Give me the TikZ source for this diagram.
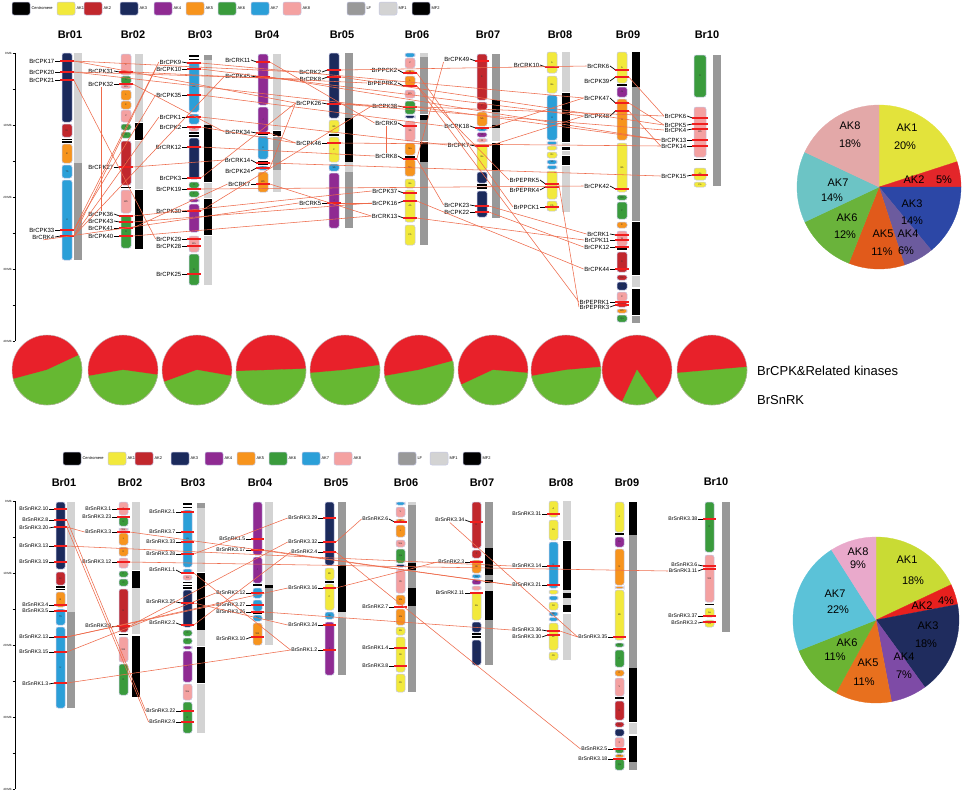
\documentclass[tikz,border=0pt]{standalone}
\usepackage{fontspec}
\setmainfont{Liberation Sans}
\definecolor{ak1}{HTML}{F2E93C}
\definecolor{ak2}{HTML}{C1272D}
\definecolor{ak3}{HTML}{1B2A5C}
\definecolor{ak4}{HTML}{8F2A92}
\definecolor{ak5}{HTML}{F7941D}
\definecolor{ak6}{HTML}{3A9B3C}
\definecolor{ak7}{HTML}{2B9FD8}
\definecolor{ak8}{HTML}{F4A1A1}
\definecolor{lf}{HTML}{999999}
\definecolor{mfa}{HTML}{D3D3D3}
\definecolor{segline}{HTML}{C3C6E4}
\definecolor{lnk}{HTML}{EE6A4A}
\definecolor{barred}{HTML}{F01E1E}
\definecolor{p1}{HTML}{E3E33B}
\definecolor{p2}{HTML}{E3262A}
\definecolor{p3}{HTML}{2C47A6}
\definecolor{p4}{HTML}{6C5B9E}
\definecolor{p5}{HTML}{E15A1B}
\definecolor{p6}{HTML}{6AB33B}
\definecolor{p7}{HTML}{6CC4C5}
\definecolor{p8}{HTML}{E3A8A8}
\definecolor{q1}{HTML}{C9DB34}
\definecolor{q2}{HTML}{E8201E}
\definecolor{q3}{HTML}{1F2C5E}
\definecolor{q4}{HTML}{7E4BA6}
\definecolor{q5}{HTML}{E8701E}
\definecolor{q6}{HTML}{6BB433}
\definecolor{q7}{HTML}{5BC2D8}
\definecolor{q8}{HTML}{E9A9CB}
\definecolor{pr}{HTML}{E8212A}
\definecolor{pg}{HTML}{66B832}
\newcounter{nc}
\def\cw{10}
\def\gfs{6}
\tikzset{
 seg/.style={draw=segline, line width=0.5pt, rounded corners=2.2pt},
 slab/.style={font=\fontsize{2.4}{3}\selectfont, inner sep=0pt, text=black!80},
 gbar/.style={draw=barred, line width=2.2pt},
 gtick/.style={draw=black, line width=0.7pt},
 glab/.style={anchor=east, inner sep=0.5pt, font=\fontsize{\gfs}{\gfs}\selectfont},
 link/.style={draw=lnk, line width=0.55pt},
 ttl/.style={font=\fontsize{11}{13}\selectfont\bfseries},
 lgl/.style={font=\fontsize{4}{5}\selectfont, anchor=west, inner sep=0.3pt},
 axl/.style={font=\fontsize{3}{4}\selectfont, anchor=east, inner sep=0.3pt},
 pl/.style={font=\fontsize{11}{12}\selectfont, inner sep=0pt},
 leg/.style={font=\fontsize{13}{15}\selectfont, anchor=west, inner sep=0pt},
}
\newcommand{\sg}[5]{\draw[seg,fill=#4] (#1,#2) rectangle ({#1+\cw},#3);
  \stepcounter{nc}\node[slab] (n\arabic{nc}) at ({#1+\cw/2},{(#2+#3)/2}) {#5};}
\newcommand{\bk}[2]{\fill[black] ({#1-0.3},{#2-0.7}) rectangle ({#1+\cw+0.3},{#2+0.7});}
\newcommand{\bd}[4]{\fill[#4] (#1,#2) rectangle ({#1+8},#3);}
\newcommand{\gn}[5]{\draw[gtick] ({#2-7},#4) -- ({#2-1.5},#3);
  \draw[gbar] ({#2-1.8},#3) -- ({#2+\cw+1.8},#3);
  \node[glab] (#1) at ({#2-7},#4) {#5};
  \coordinate (#1-r) at ({#2+\cw+1.8},#3);}
\newcommand{\lk}[2]{\draw[link] (#1) -- (#2);}
\newcommand{\lgbox}[4]{\draw[draw=segline, line width=0.5pt, rounded corners=2pt, fill=#3] (#1,#2) rectangle ({#1+18},{#2+13});
  \stepcounter{nc}\node[lgl] (n\arabic{nc}) at ({#1+19},{#2+6.5}) {#4};}
\newcommand{\ps}[6]{\filldraw[fill=#6, draw=#6, line width=0.3pt] (#1,#2) -- ++({-(#4)}:#3) arc[start angle={-(#4)}, end angle={-(#5)}, radius=#3] -- cycle;}
\newcommand{\mini}[4]{\fill[pr] (#1,370) circle[radius=35];
  \ps{#1}{370}{35}{#2}{#3}{pg}
  \draw[black!25, line width=0.4pt] (#1,370) circle[radius=35];
  \coordinate (#4) at (#1,370);}
\newcommand{\axisk}[1]{\draw[line width=0.6pt] (15,#1) -- (15,{#1+288});
  \foreach \i in {0,...,8}{\draw[line width=0.5pt] (12.5,{#1+36*\i}) -- (15,{#1+36*\i});}
  \foreach \i/\t in {0/0,2/10,4/20,6/30,8/40}{\stepcounter{nc}\node[axl] (n\arabic{nc}) at (12,{#1+36*\i}) {\t\,Mb};}}
\begin{document}
\begin{tikzpicture}[x=1pt,y=-1pt]
\fill[white] (0,0) rectangle (964,793);
\useasboundingbox (0,0) rectangle (964,793);

% ================= TOP PANEL =================
\lgbox{12}{2}{black}{Centromere}
\lgbox{57}{2}{ak1}{AK1}
\lgbox{84}{2}{ak2}{AK2}
\lgbox{120}{2}{ak3}{AK3}
\lgbox{154}{2}{ak4}{AK4}
\lgbox{186}{2}{ak5}{AK5}
\lgbox{218}{2}{ak6}{AK6}
\lgbox{251}{2}{ak7}{AK7}
\lgbox{283}{2}{ak8}{AK8}
\lgbox{347}{2}{lf}{LF}
\lgbox{379}{2}{mfa}{MF1}
\lgbox{412}{2}{black}{MF2}

\axisk{53}

\node[ttl] (T1) at (70,35) {Br01};
\node[ttl] (T2) at (133,35) {Br02};
\node[ttl] (T3) at (200,35) {Br03};
\node[ttl] (T4) at (267,35) {Br04};
\node[ttl] (T5) at (342,35) {Br05};
\node[ttl] (T6) at (417,35) {Br06};
\node[ttl] (T7) at (488,35) {Br07};
\node[ttl] (T8) at (560,35) {Br08};
\node[ttl] (T9) at (628,35) {Br09};
\node[ttl] (T10) at (707,35) {Br10};

% Br01
\bd{74}{53}{163}{mfa}\bd{74}{163}{260}{lf}
\sg{62}{53}{122}{ak3}{I}
\sg{62}{124}{137}{ak2}{Dr}
\bk{62}{139.5}\bk{62}{142}
\sg{62}{144}{163}{ak5}{B}
\sg{62}{165}{178}{ak7}{Tb}
\sg{62}{180}{260}{ak7}{U}
% Br02
\bd{135}{54}{122}{mfa}\bd{135}{123}{140}{black}\bd{135}{141}{189}{mfa}\bd{135}{190}{249}{black}
\sg{121}{54}{75}{ak8}{X}
\sg{121}{76}{84}{ak6}{U}
\sg{121}{85}{88.5}{ak8}{Wa}
\sg{121}{90}{100}{ak5}{L}
\sg{121}{101}{109}{ak5}{K}
\sg{121}{110}{122}{ak8}{V}
\sg{121}{124}{130}{ak6}{P}
\sg{121}{132}{138}{ak6}{O}
\sg{121}{141}{185}{ak2}{E}
\bk{121}{187.5}
\sg{121}{190}{213}{ak8}{Wb}
\sg{121}{215}{248}{ak6}{R}
% Br03
\bd{204}{55}{60}{lf}\bd{204}{60}{125}{mfa}\bd{204}{125}{182}{black}\bd{204}{183}{198}{mfa}\bd{204}{199}{235}{black}\bd{204}{236}{285}{mfa}
\bk{189}{56}\bk{189}{59.5}
\sg{189}{62}{112}{ak7}{Ua}
\sg{189}{114}{124}{ak7}{}
\sg{189}{126}{131}{ak8}{Ka}
\bk{189}{133}\bk{189}{136}
\sg{189}{138}{179}{ak3}{I}
\sg{189}{182}{188}{ak6}{O}
\sg{189}{191}{197}{ak6}{P}
\sg{189}{199}{202}{ak4}{}
\sg{189}{204}{232}{ak4}{J}
\sg{189}{236}{252}{ak8}{Wa}
\sg{189}{254}{285}{ak6}{R}
% Br04
\bd{273}{54}{130}{mfa}\bd{273}{131}{136}{black}\bd{273}{137}{170}{lf}\bd{273}{170}{192}{mfa}
\sg{258}{54}{105}{ak4}{}
\sg{258}{107}{132}{ak4}{J}
\bk{258}{134}
\sg{258}{136}{159}{ak7}{U}
\bk{258}{161.5}\bk{258}{164.5}
\sg{258}{166}{170}{ak7}{Ta}
\sg{258}{172}{192}{ak5}{Wb}
% Br05
\bd{345}{53}{118}{lf}\bd{345}{118}{162}{black}\bd{345}{162}{172}{mfa}\bd{345}{172}{228}{lf}
\sg{329}{53}{118}{ak3}{Fa}
\sg{329}{120}{133}{ak1}{Bb}
\bk{329}{135}
\sg{329}{137}{162}{ak1}{C}
\sg{329}{164}{171}{ak7}{Sb}
\sg{329}{173}{228}{ak4}{J}
% Br06
\bd{420}{53}{57}{mfa}\bd{420}{57}{114}{lf}\bd{420}{115}{120}{black}\bd{420}{120}{141}{lf}\bd{420}{142}{162}{black}\bd{420}{162}{245}{lf}
\sg{405}{53}{57}{ak7}{}
\sg{405}{58}{68}{ak8}{V}
\sg{405}{70}{74}{ak5}{W}
\sg{405}{76}{86}{ak5}{L}
\sg{405}{90}{98}{ak8}{Wa}
\sg{405}{101}{114}{ak6}{Qa}
\sg{405}{115.5}{118}{ak3}{}
\sg{405}{121}{141}{ak8}{Xb}
\sg{405}{143}{155}{ak5}{Ma}
\bk{405}{157}
\sg{405}{159}{176}{ak5}{Ma}
\sg{405}{179}{188}{ak1}{Ba}
\sg{405}{190}{222}{ak1}{Ab}
\sg{405}{225}{245}{ak1}{Cb}
% Br07
\bd{492}{54}{100}{lf}\bd{492}{100}{112}{black}\bd{492}{112}{125}{lf}\bd{492}{125}{128}{black}\bd{492}{128}{141}{mfa}\bd{492}{143}{170}{black}\bd{492}{170}{218}{lf}
\sg{477}{54}{100}{ak2}{E}
\sg{477}{102}{110}{ak2}{F}
\sg{477}{112}{126}{ak5}{Nb}
\sg{477}{127.5}{131}{ak7}{Sa}
\sg{477}{132.5}{137}{ak4}{Vb}
\sg{477}{138.5}{142}{ak8}{Ni}
\sg{477}{144}{170}{ak1}{Ba}
\sg{477}{172}{183}{ak3}{Fb}
\bk{477}{185}\bk{477}{188}
\sg{477}{191}{217}{ak3}{H}
% Br08
\bd{562}{52}{92}{mfa}\bd{562}{93}{142}{black}\bd{562}{143}{146}{mfa}\bd{562}{147}{150}{black}\bd{562}{151}{155}{mfa}\bd{562}{156}{165}{black}\bd{562}{166}{212}{mfa}
\sg{547}{52}{73}{ak1}{A}
\sg{547}{76}{93}{ak1}{Ba}
\sg{547}{95}{140}{ak7}{U}
\sg{547}{141.5}{144.5}{ak7}{}
\sg{547}{146}{150}{ak1}{}
\sg{547}{152}{158}{ak1}{Rc}
\sg{547}{160}{164}{ak7}{Sb}
\sg{547}{165.5}{169}{ak7}{}
\sg{547}{171}{199}{ak1}{Bc}
\sg{547}{201}{211}{ak1}{Cb}
% Br09
\bd{632}{52}{87}{black}\bd{632}{87}{221}{lf}\bd{632}{222}{275}{black}\bd{632}{276}{287}{mfa}\bd{632}{289}{315}{black}\bd{632}{316}{323}{lf}
\sg{617}{52}{83}{ak1}{A}
\bk{617}{85}
\sg{617}{87}{97}{ak4}{Ja}
\sg{617}{99}{140}{ak5}{N}
\sg{617}{143}{192}{ak1}{Bb}
\sg{617}{195}{200}{ak6}{Ob}
\sg{617}{202}{219}{ak6}{P}
\sg{617}{222}{228}{ak5}{K}
\sg{617}{231}{246}{ak8}{W}
\bk{617}{249}
\sg{617}{252}{272}{ak2}{D}
\sg{617}{275}{280}{ak2}{Da}
\sg{617}{282}{290}{ak3}{Cf}
\sg{617}{292}{301}{ak8}{X}
\sg{617}{302}{307}{ak2}{}
\sg{617}{309}{313}{ak5}{Wb}
\sg{617}{315}{322}{ak6}{Qa}
% Br10
\def\cw{12}
\bd{713}{55}{186}{lf}
\sg{694}{55}{97}{ak6}{R}
\sg{694}{107}{157}{ak8}{Wb}
\bk{694}{159.5}
\sg{694}{168}{180}{ak1}{Aa}
\sg{694}{182}{187}{ak1}{Ca}
\def\cw{10}

% genes top
\gn{CPK17}{62}{61}{61}{BrCPK17}
\gn{CPK20}{62}{72}{72}{BrCPK20}
\gn{CPK21}{62}{80}{80}{BrCPK21}
\gn{CPK33}{62}{230}{230}{BrCPK33}
\gn{CRK4}{62}{236}{237}{BrCRK4}
\gn{CPK31}{121}{72}{71}{BrCPK31}
\gn{CPK32}{121}{84}{84}{BrCPK32}
\gn{CPK27}{121}{167}{167}{BrCPK27}
\gn{CPK36}{121}{216}{214}{BrCPK36}
\gn{CPK43}{121}{222}{221}{BrCPK43}
\gn{CPK41}{121}{228}{228}{BrCPK41}
\gn{CPK40}{121}{236}{236}{BrCPK40}
\gn{CPK9}{189}{63}{62}{BrCPK9}
\gn{CPK10}{189}{69}{69}{BrCPK10}
\gn{CPK35}{189}{95}{95}{BrCPK35}
\gn{CPK1}{189}{117}{117}{BrCPK1}
\gn{CPK2}{189}{127}{127}{BrCPK2}
\gn{CRK12}{189}{147}{147}{BrCRK12}
\gn{CPK3}{189}{178}{178}{BrCPK3}
\gn{CPK19}{189}{189}{189}{BrCPK19}
\gn{CPK30}{189}{211}{211}{BrCPK30}
\gn{CPK29}{189}{239}{239}{BrCPK29}
\gn{CPK28}{189}{246}{246}{BrCPK28}
\gn{CPK25}{189}{274}{274}{BrCPK25}
\gn{CRK11}{258}{62}{60}{BrCRK11}
\gn{CPK45}{258}{77}{76}{BrCPK45}
\gn{CPK34}{258}{133}{132}{BrCPK34}
\gn{CRK14}{258}{163}{160}{BrCRK14}
\gn{CPK24}{258}{168}{171}{BrCPK24}
\gn{CRK7}{258}{184}{184}{BrCRK7}
\gn{CRK2}{329}{70}{72}{BrCRK2}
\gn{CPK8}{329}{77}{79}{BrCPK8}
\gn{CPK26}{329}{104}{103}{BrCPK26}
\gn{CPK46}{329}{143}{143}{BrCPK46}
\gn{CRK5}{329}{203}{203}{BrCRK5}
\gn{PPCK2}{405}{73}{70}{BrPPCK2}
\gn{PEPRK2}{405}{86}{83}{BrPEPRK2}
\gn{CPK38}{405}{107}{106}{BrCPK38}
\gn{CRK9}{405}{126}{123}{BrCRK9}
\gn{CRK8}{405}{159}{156}{BrCRK8}
\gn{CPK37}{405}{193}{191}{BrCPK37}
\gn{CPK16}{405}{201}{203}{BrCPK16}
\gn{CRK13}{405}{218}{216}{BrCRK13}
\gn{CPK49}{477}{61}{59}{BrCPK49}
\gn{CPK18}{477}{128}{126}{BrCPK18}
\gn{CPK7}{477}{146}{145}{BrCPK7}
\gn{CPK23}{477}{206}{205}{BrCPK23}
\gn{CPK22}{477}{212}{212}{BrCPK22}
\gn{CRK10}{547}{67}{65}{BrCRK10}
\gn{PEPRK5}{547}{184}{180}{BrPEPRK5}
\gn{PEPRK4}{547}{187}{190}{BrPEPRK4}
\gn{PPCK1}{547}{207}{207}{BrPPCK1}
\gn{CRK6}{617}{70}{66}{BrCRK6}
\gn{CPK39}{617}{77}{81}{BrCPK39}
\gn{CPK47}{617}{103}{98}{BrCPK47}
\gn{CPK48}{617}{111}{116}{BrCPK48}
\gn{CPK42}{617}{189}{186}{BrCPK42}
\gn{CRK1}{617}{235}{234}{BrCRK1}
\gn{CPK11}{617}{240}{240}{BrCPK11}
\gn{CPK12}{617}{247}{247}{BrCPK12}
\gn{CPK44}{617}{269}{269}{BrCPK44}
\gn{PEPRK1}{617}{302}{302}{BrPEPRK1}
\gn{PEPRK3}{617}{305}{307}{BrPEPRK3}
\def\cw{12}
\gn{CPK6}{694}{118}{116}{BrCPK6}
\gn{CPK5}{694}{124}{125}{BrCPK5}
\gn{CPK4}{694}{129}{130}{BrCPK4}
\gn{CPK13}{694}{140}{140}{BrCPK13}
\gn{CPK14}{694}{146}{146}{BrCPK14}
\gn{CPK15}{694}{175}{176}{BrCPK15}
\def\cw{10}

% links top
\lk{CPK17-r}{CRK2.west}
\lk{CPK17-r}{CPK26.west}
\lk{CPK20-r}{CPK8.west}
\lk{CPK20-r}{CPK38.west}
\lk{CPK21-r}{CPK29.west}
\lk{CPK31-r}{PEPRK2.west}
\lk{CPK32.south}{CPK36.north}
\lk{CPK32-r}{CPK34.west}
\lk{CPK33-r}{CPK9.west}
\lk{CRK4-r}{CPK10.west}
\lk{CRK4-r}{CPK45.west}
\lk{CPK33-r}{CPK35.west}
\lk{CRK4-r}{CPK1.west}
\lk{CRK4.south}{CRK5.west}
\lk{CPK36-r}{CPK37.west}
\lk{CPK43-r}{CPK16.west}
\lk{CPK41-r}{CRK7.west}
\lk{CPK40-r}{CRK13.west}
\lk{CPK27-r}{CRK14.west}
\lk{CPK9-r}{CPK47.west}
\lk{CPK10-r}{CPK48.west}
\lk{CPK35-r}{CPK18.west}
\lk{CPK1-r}{CPK7.west}
\lk{CPK2-r}{CPK46.west}
\lk{CRK12-r}{CRK8.west}
\lk{CPK3-r}{CPK26.west}
\lk{CPK19-r}{CPK42.west}
\lk{CPK30-r}{CPK38.west}
\lk{CRK11-r}{CRK9.west}
\lk{CPK45-r}{CPK13.west}
\lk{CPK34-r}{CPK46.west}
\lk{CPK24-r}{CPK26.west}
\lk{CRK7-r}{CRK13.west}
\lk{CRK14-r}{CPK15.west}
\lk{CRK2-r}{CRK6.west}
\lk{CPK8-r}{CPK5.west}
\lk{CPK26-r}{CPK6.west}
\lk{CPK26-r}{CPK4.west}
\lk{CPK46-r}{CPK14.west}
\lk{CRK5-r}{CPK16.west}
\lk{PPCK2-r}{PPCK1.west}
\lk{PEPRK2-r}{PEPRK1.west}
\lk{PEPRK2-r}{PEPRK5.west}
\lk{CPK38-r}{CPK13.west}
\lk{CRK9.south}{CRK8.north}
\lk{CPK16-r}{CPK44.west}
\lk{CRK13-r}{CPK11.west}
\lk{CRK8-r}{CPK23.west}
\lk{CPK49.south west}{CRK8-r}
\lk{CPK18-r}{CPK47.west}
\lk{CPK7-r}{CPK48.west}
\lk{CPK22-r}{CPK12.west}
\lk{CPK23-r}{CRK1.west}
\lk{PEPRK5-r}{PEPRK3.west}
\lk{CPK39-r}{CPK6.west}
\lk{CPK47-r}{CPK5.west}
\lk{CPK48-r}{CPK14.west}

% top pie
\ps{879}{187}{82}{90}{18}{p1}
\ps{879}{187}{82}{18}{0}{p2}
\ps{879}{187}{82}{0}{-50.4}{p3}
\ps{879}{187}{82}{-50.4}{-72}{p4}
\ps{879}{187}{82}{-72}{-111.6}{p5}
\ps{879}{187}{82}{-111.6}{-154.8}{p6}
\ps{879}{187}{82}{-154.8}{-205.2}{p7}
\ps{879}{187}{82}{-205.2}{-270}{p8}
\node[pl] (a8) at (850,126) {AK8};\node[pl] (b8) at (850,144) {18\%};
\node[pl] (a1) at (907,128) {AK1};\node[pl] (b1) at (905,146) {20\%};
\node[pl] (a2) at (914,180) {AK2};\node[pl] (b2) at (944,180) {5\%};
\node[pl] (a3) at (912,204) {AK3};\node[pl] (b3) at (912,221) {14\%};
\node[pl] (a4) at (908,234) {AK4};\node[pl] (b4) at (906,251) {6\%};
\node[pl] (a5) at (883,234) {AK5};\node[pl] (b5) at (882,252) {11\%};
\node[pl] (a6) at (847,218) {AK6};\node[pl] (b6) at (845,235) {12\%};
\node[pl] (a7) at (838,183) {AK7};\node[pl] (b7) at (832,198) {14\%};

% ================= PIE ROW =================
\mini{47}{25}{-165}{m1}
\mini{123}{-8}{-170}{m2}
\mini{197}{-10}{-160}{m3}
\mini{271}{2}{-178}{m4}
\mini{345}{8}{-175}{m5}
\mini{419}{15}{-170}{m6}
\mini{493}{-5}{-155}{m7}
\mini{566}{5}{-170}{m8}
\mini{637}{-55}{-115}{m9}
\mini{712}{5}{-175}{m10}
\node[leg] (L1) at (757,371) {BrCPK\&Related kinases};
\node[leg] (L2) at (757,400) {BrSnRK};

% ================= BOTTOM PANEL =================
\def\cw{9}
\def\gfs{5.2}
\lgbox{63}{452}{black}{Centromere}
\lgbox{108}{452}{ak1}{AK1}
\lgbox{135}{452}{ak2}{AK2}
\lgbox{171}{452}{ak3}{AK3}
\lgbox{205}{452}{ak4}{AK4}
\lgbox{237}{452}{ak5}{AK5}
\lgbox{269}{452}{ak6}{AK6}
\lgbox{302}{452}{ak7}{AK7}
\lgbox{334}{452}{ak8}{AK8}
\lgbox{398}{452}{lf}{LF}
\lgbox{430}{452}{mfa}{MF1}
\lgbox{463}{452}{black}{MF2}

\axisk{501}

\node[ttl] (U1) at (64,483) {Br01};
\node[ttl] (U2) at (130,483) {Br02};
\node[ttl] (U3) at (193,483) {Br03};
\node[ttl] (U4) at (260,483) {Br04};
\node[ttl] (U5) at (336,483) {Br05};
\node[ttl] (U6) at (406,483) {Br06};
\node[ttl] (U7) at (482,483) {Br07};
\node[ttl] (U8) at (561,483) {Br08};
\node[ttl] (U9) at (627,483) {Br09};
\node[ttl] (U10) at (716,482) {Br10};

% Br01
\bd{67}{502}{612}{mfa}\bd{67}{612}{708}{lf}
\sg{56}{502}{569}{ak3}{}
\sg{56}{572}{585}{ak2}{Dr}
\bk{56}{587}\bk{56}{589.5}
\sg{56}{592}{607}{ak5}{B}
\sg{56}{609}{625}{ak7}{Tb}
\sg{56}{627}{708}{ak7}{U}
% Br02
\bd{132}{502}{570}{mfa}\bd{132}{571}{588}{black}\bd{132}{588}{634}{mfa}\bd{132}{636}{697}{black}
\sg{119}{502}{515}{ak8}{X}
\sg{119}{517}{526}{ak6}{U}
\sg{119}{528}{531}{ak8}{Wa}
\sg{119}{533}{545}{ak5}{L}
\sg{119}{547}{556}{ak5}{K}
\sg{119}{558}{568}{ak8}{V}
\sg{119}{571}{577}{ak6}{P}
\sg{119}{579}{586}{ak6}{O}
\sg{119}{589}{632}{ak2}{E}
\bk{119}{634.5}
\sg{119}{637}{662}{ak8}{Wb}
\sg{119}{664}{695}{ak6}{R}
% Br03
\bd{197}{503}{508}{lf}\bd{197}{508}{572}{mfa}\bd{197}{573}{630}{black}\bd{197}{630}{646}{mfa}\bd{197}{647}{683}{black}\bd{197}{684}{733}{mfa}
\bk{183}{504}\bk{183}{507.5}
\sg{183}{510}{567}{ak7}{Ua}
\sg{183}{569}{573}{ak7}{}
\sg{183}{575}{580}{ak8}{Ka}
\bk{183}{582.5}\bk{183}{585.5}\bk{183}{588}
\sg{183}{590}{627}{ak3}{I}
\sg{183}{630}{636}{ak6}{O}
\sg{183}{638}{644}{ak6}{P}
\sg{183}{646}{649}{ak4}{}
\sg{183}{651}{682}{ak4}{J}
\sg{183}{684}{700}{ak8}{Wa}
\sg{183}{702}{733}{ak6}{R}
% Br04
\bd{265}{502}{585}{mfa}\bd{265}{585}{588}{black}\bd{265}{588}{620}{lf}\bd{265}{620}{645}{mfa}
\sg{253}{502}{555}{ak4}{}
\sg{253}{557}{583}{ak4}{J}
\bk{253}{585}
\sg{253}{588}{598}{ak7}{}
\sg{253}{600}{611}{ak7}{U}
\bk{253}{613}
\sg{253}{615}{621}{ak7}{Ta}
\sg{253}{623}{645}{ak5}{Wb}
% Br05
\bd{338}{502}{565}{lf}\bd{338}{565}{612}{black}\bd{338}{612}{618}{mfa}\bd{338}{618}{675}{lf}
\sg{325}{502}{565}{ak3}{Fa}
\sg{325}{568}{580}{ak1}{Bb}
\bk{325}{582}
\sg{325}{584}{610}{ak1}{C}
\sg{325}{612}{619}{ak7}{Sb}
\sg{325}{622}{675}{ak4}{J}
% Br06
\bd{408}{502}{505}{mfa}\bd{408}{505}{563}{lf}\bd{408}{563}{570}{black}\bd{408}{570}{588}{lf}\bd{408}{588}{606}{black}\bd{408}{606}{692}{lf}
\sg{396}{502}{505}{ak7}{}
\sg{396}{507}{517}{ak8}{V}
\sg{396}{519}{522.5}{ak5}{W}
\sg{396}{525}{537}{ak5}{L}
\sg{396}{540}{547}{ak8}{Wa}
\sg{396}{549}{563}{ak6}{Qa}
\sg{396}{564.5}{567}{ak3}{}
\sg{396}{570}{593}{ak8}{Xb}
\sg{396}{595}{605}{ak5}{Ma}
\bk{396}{607}
\sg{396}{609}{625}{ak5}{Ma}
\sg{396}{627}{635}{ak1}{Ba}
\sg{396}{637}{672}{ak1}{Ab}
\sg{396}{674}{692}{ak1}{Cb}
% Br07
\bd{485}{502}{548}{lf}\bd{485}{548}{575}{black}\bd{485}{575}{580}{lf}\bd{485}{580}{583}{black}\bd{485}{583}{591}{mfa}\bd{485}{591}{620}{black}\bd{485}{620}{665}{lf}
\sg{472}{502}{548}{ak2}{E}
\sg{472}{550}{558}{ak2}{F}
\sg{472}{560}{573}{ak5}{Nb}
\sg{472}{574.5}{578}{ak7}{Sa}
\sg{472}{579.5}{584.5}{ak4}{Vb}
\sg{472}{586}{590}{ak8}{}
\sg{472}{592}{620}{ak1}{Ba}
\sg{472}{622}{632}{ak3}{Fb}
\bk{472}{634}\bk{472}{637}
\sg{472}{640}{665}{ak3}{H}
% Br08
\bd{563}{501}{540}{mfa}\bd{563}{541}{590}{black}\bd{563}{590}{593}{mfa}\bd{563}{593}{598}{black}\bd{563}{598}{605}{mfa}\bd{563}{605}{612}{black}\bd{563}{614}{660}{mfa}
\sg{549}{501}{517}{ak1}{A}
\sg{549}{520}{540}{ak1}{Ba}
\sg{549}{542}{588}{ak7}{U}
\sg{549}{590}{594}{ak1}{}
\sg{549}{596}{600}{ak7}{}
\sg{549}{602}{610}{ak1}{Rc}
\sg{549}{612}{616}{ak7}{Sb}
\sg{549}{617.5}{621}{ak7}{}
\sg{549}{623}{650}{ak1}{Bc}
\sg{549}{652}{660}{ak1}{Cb}
% Br09
\bd{629}{502}{535}{black}\bd{629}{535}{668}{lf}\bd{629}{668}{722}{black}\bd{629}{723}{734}{mfa}\bd{629}{736}{762}{black}\bd{629}{762}{770}{lf}
\sg{615}{502}{532}{ak1}{A}
\bk{615}{534}
\sg{615}{537}{547}{ak4}{Ja}
\sg{615}{549}{585}{ak5}{N}
\sg{615}{586.5}{588.5}{ak5}{}
\sg{615}{590}{640}{ak1}{Bb}
\sg{615}{643}{647}{ak6}{Ob}
\sg{615}{650}{667}{ak6}{P}
\sg{615}{670}{676}{ak5}{K}
\sg{615}{678}{696}{ak8}{V}
\bk{615}{698}
\sg{615}{701}{720}{ak2}{D}
\sg{615}{722}{727}{ak2}{Da}
\sg{615}{729}{736}{ak3}{Cf}
\sg{615}{737.5}{747.5}{ak8}{X}
\sg{615}{749}{753}{ak6}{O}
\sg{615}{754.5}{757.5}{ak5}{Wb}
\sg{615}{759}{770}{ak6}{Qa}
% Br10
\bd{722}{502}{632}{lf}
\sg{705}{502}{552}{ak6}{R}
\sg{705}{555}{602}{ak8}{Wb}
\bk{705}{604.5}
\sg{705}{608}{617}{ak1}{Aa}
\sg{705}{620}{627}{ak1}{Ca}

% genes bottom
\gn{S2-10}{56}{509}{509}{BrSnRK2.10}
\gn{S2-8}{56}{520}{520}{BrSnRK2.8}
\gn{S3-20}{56}{527}{528}{BrSnRK3.20}
\gn{S3-13}{56}{546}{546}{BrSnRK3.13}
\gn{S3-19}{56}{562}{562}{BrSnRK3.19}
\gn{S3-4}{56}{605}{605}{BrSnRK3.4}
\gn{S3-5}{56}{611}{611}{BrSnRK3.5}
\gn{S2-13}{56}{637}{637}{BrSnRK2.13}
\gn{S3-15}{56}{652}{652}{BrSnRK3.15}
\gn{S1-3}{56}{683}{684}{BrSnRK1.3}
\gn{S3-1}{119}{509}{509}{BrSnRK3.1}
\gn{S3-23}{119}{517}{517}{BrSnRK3.23}
\gn{S3-3}{119}{532}{532}{BrSnRK3.3}
\gn{S3-12}{119}{562}{562}{BrSnRK3.12}
\gn{S3-9}{119}{626}{626}{BrSnRK3.9}
\gn{S2-1}{183}{512}{512}{BrSnRK2.1}
\gn{S3-7}{183}{532}{532}{BrSnRK3.7}
\gn{S3-33}{183}{542}{542}{BrSnRK3.33}
\gn{S3-28}{183}{554}{554}{BrSnRK3.28}
\gn{S1-1}{183}{573}{570}{BrSnRK1.1}
\gn{S3-25}{183}{603}{602}{BrSnRK3.25}
\gn{S2-2}{183}{625}{623}{BrSnRK2.2}
\gn{S3-22}{183}{711}{711}{BrSnRK3.22}
\gn{S2-9}{183}{722}{722}{BrSnRK2.9}
\gn{S1-5}{253}{539}{539}{BrSnRK1.5}
\gn{S3-17}{253}{550}{550}{BrSnRK3.17}
\gn{S2-12}{253}{593}{593}{BrSnRK2.12}
\gn{S3-27}{253}{605}{605}{BrSnRK3.27}
\gn{S3-26}{253}{612}{612}{BrSnRK3.26}
\gn{S3-10}{253}{637}{639}{BrSnRK3.10}
\gn{S3-29}{325}{518}{518}{BrSnRK3.29}
\gn{S3-32}{325}{542}{542}{BrSnRK3.32}
\gn{S2-4}{325}{552}{552}{BrSnRK2.4}
\gn{S3-16}{325}{588}{588}{BrSnRK3.16}
\gn{S3-24}{325}{625}{625}{BrSnRK3.24}
\gn{S1-2}{325}{650}{650}{BrSnRK1.2}
\gn{S2-6}{396}{522}{519}{BrSnRK2.6}
\gn{S2-7}{396}{607}{607}{BrSnRK2.7}
\gn{S1-4}{396}{648}{648}{BrSnRK1.4}
\gn{S3-8}{396}{666}{666}{BrSnRK3.8}
\gn{S3-34}{472}{522}{520}{BrSnRK3.34}
\gn{S2-3}{472}{562}{562}{BrSnRK2.3}
\gn{S2-11}{472}{593}{593}{BrSnRK2.11}
\gn{S3-31}{549}{514}{514}{BrSnRK3.31}
\gn{S3-14}{549}{566}{566}{BrSnRK3.14}
\gn{S3-21}{549}{585}{585}{BrSnRK3.21}
\gn{S3-36}{549}{631}{630}{BrSnRK3.36}
\gn{S3-30}{549}{635}{637}{BrSnRK3.30}
\gn{S3-35}{615}{637}{637}{BrSnRK3.35}
\gn{S2-5}{615}{749}{749}{BrSnRK2.5}
\gn{S3-18}{615}{759}{759}{BrSnRK3.18}
\gn{S3-38}{705}{519}{519}{BrSnRK3.38}
\gn{S3-6}{705}{566}{565}{BrSnRK3.6}
\gn{S3-11}{705}{569}{571}{BrSnRK3.11}
\gn{S3-37}{705}{616}{616}{BrSnRK3.37}
\gn{S3-2}{705}{622}{623}{BrSnRK3.2}

% links bottom
\lk{S2-8-r}{S3-22.west}
\lk{S3-20-r}{S2-9.west}
\lk{S3-20-r}{S3-3.west}
\lk{S3-3-r}{S3-21.west}
\lk{S3-13-r}{S3-14.west}
\lk{S3-12-r}{S3-11.west}
\lk{S2-13-r}{S3-16.west}
\lk{S2-13-r}{S3-27.west}
\lk{S3-15-r}{S2-12.west}
\lk{S1-3-r}{S1-2.west}
\lk{S3-9-r}{S3-32.west}
\lk{S2-2-r}{S2-4.west}
\lk{S3-28-r}{S3-29.west}
\lk{S1-1-r}{S1-2.west}
\lk{S3-25-r}{S3-24.west}
\lk{S3-26-r}{S3-36.west}
\lk{S3-17-r}{S3-21.west}
\lk{S2-4-r}{S2-5.west}
\lk{S3-32-r}{S2-6.west}
\lk{S3-16-r}{S2-3.west}
\lk{S3-34.south}{S3-35.west}
\lk{S3-36-r}{S3-35.west}

% bottom pie
\ps{876}{620}{83}{90}{25.2}{q1}
\ps{876}{620}{83}{25.2}{10.8}{q2}
\ps{876}{620}{83}{10.8}{-54}{q3}
\ps{876}{620}{83}{-54}{-79.2}{q4}
\ps{876}{620}{83}{-79.2}{-118.8}{q5}
\ps{876}{620}{83}{-118.8}{-158.4}{q6}
\ps{876}{620}{83}{-158.4}{-237.6}{q7}
\ps{876}{620}{83}{-237.6}{-270}{q8}
\node[pl] (c8) at (858,552) {AK8};\node[pl] (d8) at (858,565) {9\%};
\node[pl] (c1) at (907,560) {AK1};\node[pl] (d1) at (913,581) {18\%};
\node[pl] (c2) at (922,606) {AK2};\node[pl] (d2) at (946,601) {4\%};
\node[pl] (c3) at (928,626) {AK3};\node[pl] (d3) at (926,644) {18\%};
\node[pl] (c4) at (904,657) {AK4};\node[pl] (d4) at (904,675) {7\%};
\node[pl] (c5) at (868,663) {AK5};\node[pl] (d5) at (864,682) {11\%};
\node[pl] (c6) at (847,643) {AK6};\node[pl] (d6) at (835,657) {11\%};
\node[pl] (c7) at (835,594) {AK7};\node[pl] (d7) at (838,610) {22\%};
\end{tikzpicture}
\end{document}
